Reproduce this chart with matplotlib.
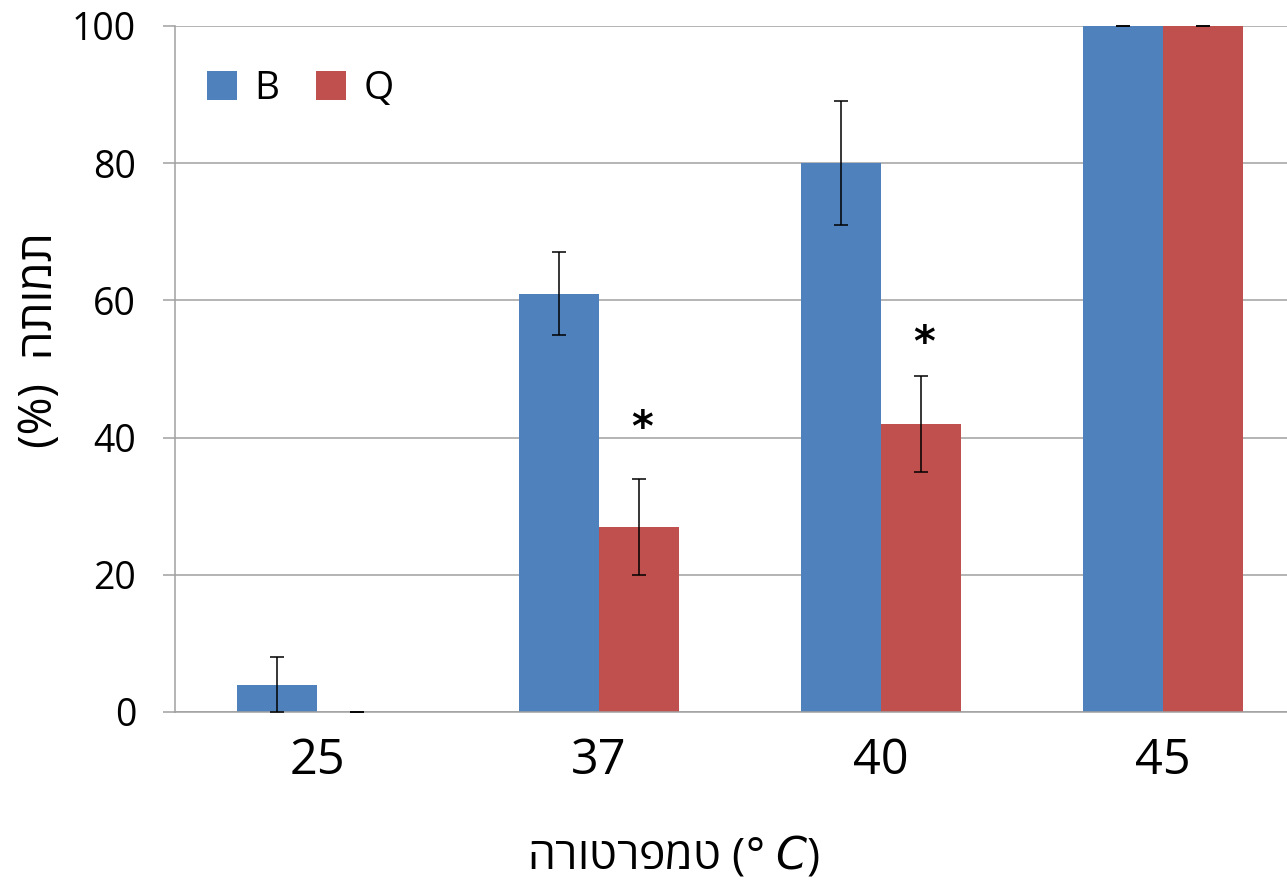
import numpy as np
import matplotlib
matplotlib.use('Agg')
import matplotlib.pyplot as plt

# data
temps = ['25', '37', '40', '45']
b_vals = [4, 61, 80, 100]
b_err = [4, 6, 9, 0]
q_vals = [0, 27, 42, 100]
q_err = [0, 7, 7, 0]
star_y = [None, 41.3, 53.6, None]  # asterisk above the Q bar

blue = '#4F81BD'
red = '#C0504D'
grid_col = '#A0A0A0'

plt.rcParams['font.family'] = ['Open Sans', 'DejaVu Sans']

fig = plt.figure(figsize=(12.87, 8.84), dpi=100)
ax = fig.add_axes([0.136, 0.1946, 0.864, 0.776])

x = np.arange(len(temps))
w = 0.2837

ax.bar(x - w / 2, b_vals, w, color=blue, label='B', zorder=2)
ax.bar(x + w / 2, q_vals, w, color=red, label='Q', zorder=2)

ekw = dict(fmt='none', ecolor='black', elinewidth=1.1, capsize=4.7, capthick=1.1, zorder=3)
eb1 = ax.errorbar(x - w / 2, b_vals, yerr=b_err, **ekw)
eb2 = ax.errorbar(x + w / 2, q_vals, yerr=q_err, **ekw)
#let caps at 100 show above the frame
for eb in (eb1, eb2):
    for art in eb.lines[1]:
        art.set_clip_on(False)

#stars for significant differences
for i, sy in enumerate(star_y):
    if sy is not None:
        ax.text(x[i] + w / 2 + 0.01, sy, '*', ha='center', va='center',
                fontsize=30, fontweight='bold', family='DejaVu Sans')

ax.set_xlim(-0.5035, 3.44)
ax.set_ylim(0, 100)
ax.set_yticks([0, 20, 40, 60, 80, 100])
ax.set_xticks(x)
ax.set_xticklabels(temps, fontsize=35)
ax.tick_params(axis='y', labelsize=27, length=9, width=1.1, color=grid_col, pad=19)
ax.tick_params(axis='x', length=0, pad=18)

ax.yaxis.grid(True, color=grid_col, linewidth=1.1)
ax.set_axisbelow(True)
for side in ['top', 'right']:
    ax.spines[side].set_visible(False)
for side in ['left', 'bottom']:
    ax.spines[side].set_color(grid_col)
    ax.spines[side].set_linewidth(1.1)

ax.set_xlabel('הרוטרפמט (° $C$)', fontsize=32)
ax.xaxis.set_label_coords(0.448, -0.178)
ax.set_ylabel('(%)  התומת', fontsize=33)
ax.yaxis.set_label_coords(-0.1007, 0.542)

ax.legend(loc='center left', ncol=2, frameon=False, fontsize=28, handlelength=0.77,
          handleheight=0.77, handletextpad=0.45, columnspacing=0.95,
          borderpad=0, borderaxespad=0, bbox_to_anchor=(0.0288, 0.908))

fig.savefig('out.png', dpi=100)
